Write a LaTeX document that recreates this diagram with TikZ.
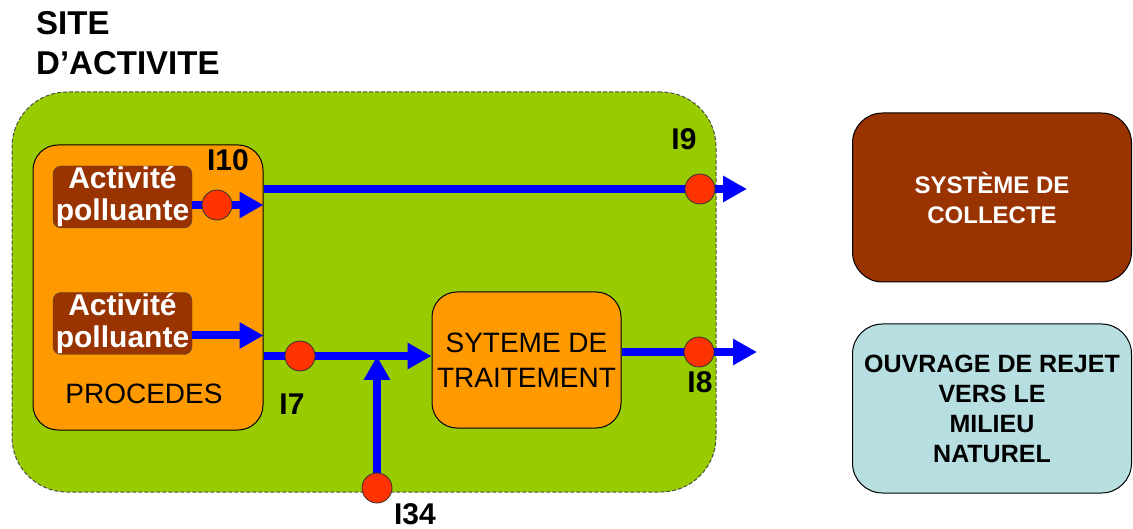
\documentclass[tikz,border=0pt]{standalone}
\usepackage{fontspec}
\setmainfont{Liberation Sans}
\usepackage{tikz}
\usetikzlibrary{arrows.meta,positioning}

\definecolor{sitegreen}{HTML}{99CC00}
\definecolor{procorange}{HTML}{FF9900}
\definecolor{actbrown}{HTML}{993300}
\definecolor{rejetblue}{HTML}{B7DEE0}
\definecolor{ptred}{HTML}{FF3300}

\begin{document}
\begin{tikzpicture}[
  x=1pt, y=-1pt,
  box/.style={rectangle, draw=black, line width=1pt, rounded corners=25pt, align=center, inner sep=0pt},
  activ/.style={rectangle, draw=black!70, fill=actbrown, rounded corners=8pt, align=center, inner sep=0pt,
    minimum width=139pt, minimum height=62pt, text=white, font=\fontsize{30}{32}\selectfont\bfseries},
  flow/.style={draw=blue, line width=8pt, -{Triangle[length=24pt,width=25pt]}},
  point/.style={circle, draw=black!80, line width=0.8pt, fill=ptred, minimum size=30pt, inner sep=0pt},
  tag/.style={font=\fontsize{30}{30}\selectfont\bfseries, inner sep=0pt}
]
  \useasboundingbox (0,0) rectangle (1133,529);

  % title
  \node[anchor=north west, align=left, inner sep=0pt, font=\fontsize{33}{40}\selectfont\bfseries] (title) at (36,11) {SITE\\D'ACTIVITE};

  % site and boxes
  \node[box, draw=black!70, dash pattern=on 4pt off 2pt, fill=sitegreen, rounded corners=55pt,
    minimum width=704pt, minimum height=400pt] (site) at (364,292) {};
  \node[box, fill=procorange, minimum width=230pt, minimum height=285pt] (proc) at (148,287.5) {};
  \node[activ] (act1) at (122.5,197) {Activité\\polluante};
  \node[activ] (act2) at (122.5,323.5) {Activité\\polluante};
  \node[font=\fontsize{28}{30}\selectfont, inner sep=0pt] (proclbl) at (144,394) {PROCEDES};
  \node[box, fill=procorange, minimum width=189pt, minimum height=136pt,
    font=\fontsize{28}{35}\selectfont] (trait) at (526.5,360) {SYTEME DE\\TRAITEMENT};

  \node[box, fill=actbrown, rounded corners=30pt, minimum width=279pt, minimum height=169pt, text=white,
    font=\fontsize{24}{30}\selectfont\bfseries] (collecte) at (992,197.5) {SYSTÈME DE\\COLLECTE};
  \node[box, fill=rejetblue, rounded corners=30pt, minimum width=279pt, minimum height=169pt,
    font=\fontsize{25}{30}\selectfont\bfseries] (rejet) at (992,408.5) {OUVRAGE DE REJET\\VERS LE\\MILIEU\\NATUREL};

  % measuring points
  \coordinate (p10) at (217,205);
  \coordinate (p9) at (700,189);
  \coordinate (p7) at (300,356);
  \coordinate (p8) at (699,352);
  \coordinate (p34) at (377,488);
  \coordinate (out9) at (747,189);
  \coordinate (out8) at (757,352);

  % flows
  \draw[flow] (act1.east |- p10) -- (proc.east |- p10);
  \draw[flow] ([yshift=-12pt]act2.east) -- ([yshift=-12pt]act2.east -| proc.east);
  \draw[flow] (proc.east |- p9) -- (out9);
  \draw[flow] (proc.east |- p7) -- (trait.west |- p7);
  \draw[flow] (p34) -- (p34 |- p7);
  \draw[flow] (trait.east |- p8) -- (out8);

  \node[point] (c10) at (p10) {};
  \node[point] (c9) at (p9) {};
  \node[point] (c7) at (p7) {};
  \node[point] (c8) at (p8) {};
  \node[point] (c34) at (p34) {};

  \node[tag] (l10) at (228,160) {I10};
  \node[tag] (l9) at (684,139) {I9};
  \node[tag] (l7) at (292,404) {I7};
  \node[tag] (l8) at (700,382) {I8};
  \node[tag] (l34) at (415,514) {I34};
\end{tikzpicture}
\end{document}
